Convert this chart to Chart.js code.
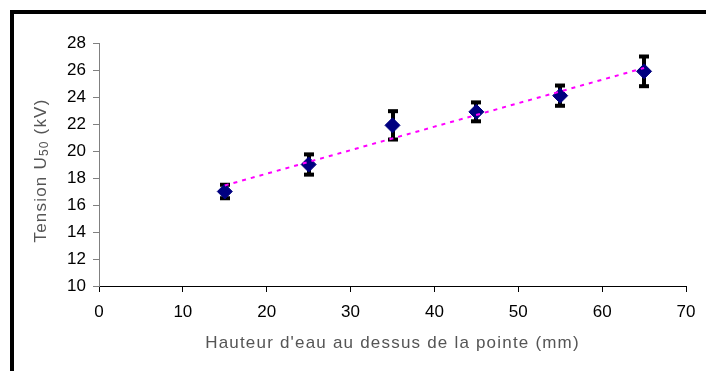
<!DOCTYPE html>
<html>
<head>
<meta charset="utf-8">
<script src="https://cdn.jsdelivr.net/npm/chart.js@4.4.0/dist/chart.umd.min.js"></script>
<style>
  html, body { margin: 0; padding: 0; background: #fff; }
  #wrap { width: 706px; height: 371px; }
</style>
</head>
<body>
<div id="wrap"><canvas id="chart" width="706" height="371"></canvas></div>
<script>
// water height above the tip (mm) and measured U50 with its spread (kV)
const heights = [15, 25, 35, 45, 55, 65];
const u50 = [17.0, 19.0, 21.9, 22.9, 24.1, 25.9];
const errU50 = [0.5, 0.75, 1.05, 0.7, 0.75, 1.1];

// linear trend end points
const trendX = [15, 65];
const trendY = [17.45, 26.15];

const xTicks = [0, 10, 20, 30, 40, 50, 60, 70];
const yTicks = [10, 12, 14, 16, 18, 20, 22, 24, 26, 28];

const xTitle = "Hauteur d'eau au dessus de la pointe (mm)";
const yTitle = ["Tension U", "50", " (kV)"];

const FONT = '"Liberation Sans", Arial, sans-serif';

// black frame along top and left
const frame = {
  id: 'frame',
  beforeDraw(chart) {
    const ctx = chart.ctx;
    ctx.save();
    ctx.fillStyle = '#000';
    ctx.fillRect(10, 10, chart.width - 10, 4);
    ctx.fillRect(10, 10, 4, chart.height - 10);
    ctx.restore();
  }
};

// vertical error bars with flat caps
const errorBars = {
  id: 'errorBars',
  beforeDatasetsDraw(chart) {
    const { ctx, scales: { x, y } } = chart;
    ctx.save();
    ctx.fillStyle = '#000';
    heights.forEach((h, i) => {
      const px = Math.round(x.getPixelForValue(h));
      const top = y.getPixelForValue(u50[i] + errU50[i]);
      const bot = y.getPixelForValue(u50[i] - errU50[i]);
      ctx.fillRect(px - 2, top, 4, bot - top);
      ctx.fillRect(px - 5, top - 2, 10, 4);
      ctx.fillRect(px - 5, bot - 2, 10, 4);
    });
    ctx.restore();
  }
};

// axis titles, the y one with a subscript
const axisTitles = {
  id: 'axisTitles',
  afterDraw(chart) {
    const { ctx, chartArea: a } = chart;
    ctx.save();
    ctx.fillStyle = '#555';
    ctx.letterSpacing = '1.2px';
    ctx.font = '17px ' + FONT;
    ctx.textAlign = 'center';
    ctx.textBaseline = 'middle';
    ctx.fillText(xTitle, (a.left + a.right) / 2, a.bottom + 57);

    ctx.translate(a.left - 58, (a.top + a.bottom) / 2 + 6);
    ctx.rotate(-Math.PI / 2);
    ctx.textAlign = 'left';
    const big = '17px ' + FONT, small = '12px ' + FONT;
    ctx.font = big;
    const w0 = ctx.measureText(yTitle[0]).width;
    const w2 = ctx.measureText(yTitle[2]).width;
    ctx.font = small;
    const w1 = ctx.measureText(yTitle[1]).width;
    let cx = -(w0 + w1 + w2) / 2;
    ctx.font = big;
    ctx.fillText(yTitle[0], cx, 0);
    cx += w0;
    ctx.font = small;
    ctx.fillText(yTitle[1], cx, 4);
    cx += w1;
    ctx.font = big;
    ctx.fillText(yTitle[2], cx, 0);
    ctx.restore();
  }
};

new Chart(document.getElementById('chart'), {
  type: 'scatter',
  data: {
    datasets: [
      {
        type: 'line',
        data: trendX.map((v, i) => ({ x: v, y: trendY[i] })),
        borderColor: '#ff00ff',
        borderWidth: 2,
        borderDash: [4, 5],
        pointRadius: 0,
        fill: false
      },
      {
        data: heights.map((v, i) => ({ x: v, y: u50[i] })),
        pointStyle: 'rectRot',
        pointRadius: 7.5,
        backgroundColor: '#000080',
        borderColor: '#000080',
        borderWidth: 1
      }
    ]
  },
  options: {
    responsive: false,
    animation: false,
    layout: { padding: { left: 0, right: 20, top: 43, bottom: 0 } },
    plugins: {
      legend: { display: false },
      tooltip: { enabled: false }
    },
    scales: {
      x: {
        type: 'linear',
        min: xTicks[0],
        max: xTicks[xTicks.length - 1],
        afterBuildTicks: s => { s.ticks = xTicks.map(v => ({ value: v })); },
        afterFit: s => { s.height = 85; },
        grid: { drawOnChartArea: false, drawTicks: true, tickLength: 6, color: '#000', tickColor: '#000' },
        border: { display: true, color: '#000', width: 1 },
        ticks: { color: '#000', font: { family: FONT, size: 17 }, padding: 10, maxRotation: 0 }
      },
      y: {
        type: 'linear',
        min: yTicks[0],
        max: yTicks[yTicks.length - 1],
        afterBuildTicks: s => { s.ticks = yTicks.map(v => ({ value: v })); },
        afterFit: s => { s.width = 99; },
        grid: { drawOnChartArea: false, drawTicks: true, tickLength: 6, color: '#808080', tickColor: '#808080' },
        border: { display: true, color: '#808080', width: 1 },
        ticks: { color: '#000', font: { family: FONT, size: 17 }, padding: 7 }
      }
    }
  },
  plugins: [frame, errorBars, axisTitles]
});
</script>
</body>
</html>
